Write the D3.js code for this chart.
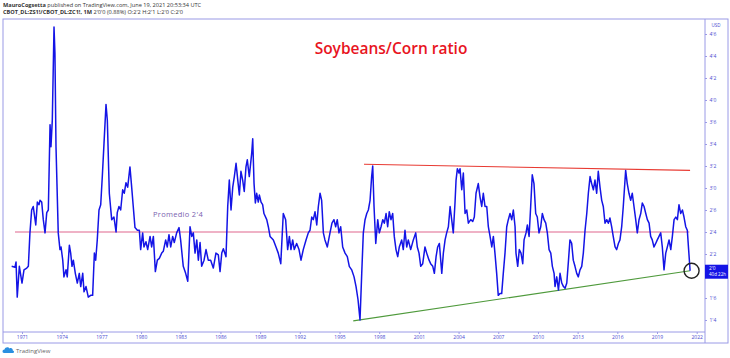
<!DOCTYPE html>
<html>
<head>
<meta charset="utf-8">
<script src="https://cdn.jsdelivr.net/npm/d3@7"></script>
<style>
  body { margin: 0; background: #fff; }
  svg { display: block; font-family: "Open Sans", "DejaVu Sans", sans-serif; }
</style>
</head>
<body>
<svg id="chart" width="730" height="358"></svg>
<script>
// decimal years of each monthly sample
var dates = [
  1970.22,1970.47,1970.55,1970.64,1970.80,1971.00,1971.15,1971.36,1971.48,1971.60,
  1971.73,1971.85,1972.04,1972.16,1972.29,1972.36,1972.49,1972.61,1972.74,1972.87,
  1972.99,1973.12,1973.19,1973.29,1973.42,1973.49,1973.57,1973.74,1973.87,1973.95,
  1974.08,1974.17,1974.33,1974.42,1974.58,1974.68,1974.78,1974.88,1975.03,1975.18,
  1975.33,1975.44,1975.59,1975.69,1975.84,1976.01,1976.19,1976.34,1976.47,1976.57,
  1976.69,1976.82,1976.95,1977.07,1977.20,1977.35,1977.45,1977.60,1977.78,1977.95,
  1978.11,1978.20,1978.33,1978.46,1978.61,1978.73,1978.86,1978.99,1979.16,1979.29,
  1979.41,1979.54,1979.72,1979.87,1979.97,1980.12,1980.22,1980.37,1980.50,1980.68,
  1980.80,1980.93,1981.08,1981.23,1981.38,1981.56,1981.68,1981.86,1981.98,1982.11,
  1982.24,1982.39,1982.51,1982.69,1982.87,1982.99,1983.19,1983.37,1983.53,1983.70,
  1983.83,1983.95,1984.08,1984.21,1984.33,1984.46,1984.58,1984.76,1984.91,1985.08,
  1985.26,1985.46,1985.66,1985.84,1985.97,1986.10,1986.22,1986.42,1986.55,1986.67,
  1986.80,1986.93,1987.05,1987.18,1987.31,1987.43,1987.55,1987.68,1987.80,1987.93,
  1988.03,1988.18,1988.36,1988.44,1988.54,1988.64,1988.74,1988.86,1988.94,1989.07,
  1989.19,1989.29,1989.50,1989.62,1989.75,1989.88,1990.00,1990.20,1990.37,1990.56,
  1990.75,1990.93,1991.08,1991.21,1991.33,1991.46,1991.58,1991.76,1991.94,1992.09,
  1992.26,1992.47,1992.64,1992.77,1992.90,1993.02,1993.15,1993.28,1993.40,1993.53,
  1993.65,1993.78,1993.90,1994.08,1994.28,1994.43,1994.58,1994.71,1994.83,1994.96,
  1995.09,1995.24,1995.42,1995.59,1995.74,1995.92,1996.10,1996.25,1996.40,1996.55,
  1996.68,1996.80,1996.93,1997.06,1997.18,1997.31,1997.43,1997.51,1997.61,1997.74,
  1997.89,1998.01,1998.14,1998.27,1998.39,1998.52,1998.64,1998.76,1998.89,1999.02,
  1999.14,1999.27,1999.40,1999.52,1999.70,1999.82,1999.95,2000.08,2000.20,2000.38,
  2000.58,2000.76,2000.88,2001.01,2001.14,2001.29,2001.46,2001.59,2001.77,2001.89,
  2002.05,2002.17,2002.30,2002.42,2002.55,2002.73,2002.85,2002.98,2003.10,2003.23,
  2003.36,2003.48,2003.60,2003.73,2003.81,2003.91,2004.03,2004.11,2004.24,2004.36,
  2004.49,2004.62,2004.74,2004.92,2005.07,2005.19,2005.32,2005.49,2005.62,2005.75,
  2005.87,2006.00,2006.13,2006.25,2006.38,2006.51,2006.63,2006.75,2006.88,2007.00,
  2007.13,2007.26,2007.38,2007.51,2007.64,2007.76,2007.89,2008.02,2008.14,2008.27,
  2008.34,2008.47,2008.59,2008.72,2008.85,2008.95,2009.10,2009.20,2009.33,2009.45,
  2009.57,2009.70,2009.83,2009.95,2010.08,2010.21,2010.33,2010.46,2010.59,2010.71,
  2010.84,2010.97,2011.09,2011.22,2011.29,2011.42,2011.55,2011.67,2011.80,2011.93,
  2012.05,2012.18,2012.31,2012.42,2012.55,2012.67,2012.80,2012.93,2013.05,2013.18,
  2013.31,2013.43,2013.56,2013.69,2013.81,2013.94,2014.06,2014.19,2014.31,2014.44,
  2014.56,2014.69,2014.82,2014.94,2015.07,2015.20,2015.32,2015.44,2015.57,2015.69,
  2015.83,2015.95,2016.08,2016.20,2016.33,2016.45,2016.63,2016.75,2016.88,2017.01,
  2017.13,2017.26,2017.39,2017.51,2017.64,2017.77,2017.89,2018.02,2018.15,2018.27,
  2018.40,2018.52,2018.64,2018.77,2018.90,2019.02,2019.15,2019.28,2019.40,2019.53,
  2019.66,2019.78,2019.91,2020.04,2020.16,2020.29,2020.42,2020.54,2020.66,2020.79,
  2020.92,2021.04,2021.17,2021.29,2021.39,2021.50
];

// soybeans / corn ratio at each date
var ratio = [
  2.11,2.10,2.16,1.76,2.11,1.92,2.07,2.09,2.11,2.49,
  2.75,2.79,2.58,2.84,2.81,2.86,2.84,2.64,2.49,2.72,
  2.75,3.72,3.47,3.77,4.83,4.53,3.47,2.49,2.30,2.33,
  2.18,1.99,2.07,1.99,2.35,2.26,2.11,2.18,2.03,1.92,
  2.03,1.88,2.03,1.82,1.88,1.76,1.78,1.78,2.26,2.18,
  2.41,2.75,2.81,3.13,3.51,3.95,3.77,2.94,2.64,2.67,
  2.50,2.72,2.79,2.75,2.98,2.94,3.06,3.01,3.24,3.01,
  2.79,2.55,2.52,2.52,2.30,2.49,2.33,2.39,2.30,2.45,
  2.33,2.45,2.05,2.18,2.20,2.26,2.28,2.41,2.33,2.47,
  2.33,2.45,2.38,2.49,2.55,2.41,2.11,2.03,1.94,2.56,
  2.45,2.49,2.26,2.41,2.18,2.38,2.11,2.18,2.30,2.18,
  2.18,2.09,2.26,2.24,2.05,2.26,2.31,2.22,2.79,3.09,
  2.75,3.01,3.13,3.28,3.09,2.92,3.19,3.09,2.96,3.24,
  3.32,3.13,3.39,3.56,3.05,2.83,2.94,2.84,2.92,2.84,
  2.81,2.71,2.64,2.56,2.45,2.43,2.41,2.33,2.26,2.14,
  2.71,2.64,2.30,2.45,2.30,2.41,2.30,2.37,2.30,2.18,
  2.30,2.41,2.49,2.52,2.67,2.64,2.73,2.58,2.79,2.94,
  2.86,2.49,2.41,2.33,2.49,2.60,2.64,2.56,2.64,2.49,
  2.56,2.33,2.26,2.22,2.11,2.07,1.99,1.88,1.73,1.50,
  2.03,2.49,2.64,2.71,2.75,2.86,3.13,3.25,2.79,2.37,
  2.64,2.49,2.56,2.64,2.60,2.71,2.56,2.73,2.64,2.71,
  2.45,2.30,2.22,2.33,2.41,2.30,2.52,2.33,2.41,2.30,
  2.41,2.49,2.33,2.26,2.11,2.14,2.33,2.26,2.18,2.14,
  2.11,2.03,2.22,2.33,2.37,2.03,2.26,2.41,2.49,2.56,
  2.79,2.64,2.49,2.83,3.09,3.22,3.17,3.22,2.98,3.17,
  2.71,2.75,2.60,2.64,2.62,2.67,2.94,3.05,2.90,2.79,
  2.94,2.79,2.79,2.56,2.45,2.33,2.45,2.26,2.03,1.78,
  1.80,1.80,2.03,2.26,2.56,2.64,2.71,2.64,2.75,2.56,
  2.26,2.11,2.30,2.26,2.14,2.41,2.49,2.58,2.45,2.79,
  3.15,3.05,2.71,2.67,2.49,2.56,2.71,2.64,2.60,2.49,
  2.30,2.26,2.11,2.03,1.88,1.99,1.84,2.03,1.92,1.88,
  1.86,1.92,2.18,2.41,2.37,2.18,2.11,2.03,1.99,2.07,
  2.11,2.26,2.52,2.71,2.94,3.13,3.05,2.98,3.09,2.94,
  3.19,3.01,2.86,2.79,2.60,2.64,2.60,2.66,2.56,2.45,
  2.33,2.30,2.37,2.41,2.56,2.79,3.20,3.05,2.94,2.86,
  2.94,2.79,2.64,2.49,2.64,2.71,2.83,2.79,2.71,2.64,
  2.60,2.45,2.41,2.33,2.37,2.41,2.45,2.49,2.33,2.07,
  2.26,2.33,2.41,2.30,2.45,2.64,2.67,2.64,2.81,2.71,
  2.75,2.67,2.56,2.52,2.30,2.06
];

// x axis years and price axis ticks (shown in 1/8 notation, e.g. 2'4 = 2.5)
// the 2'0 tick sits under the last-value badge, so it is not listed
var yearTicks = [1971,1974,1977,1980,1983,1986,1989,1992,1995,1998,2001,2004,2007,2010,2013,2016,2019,2022];
var priceTicks = [1.5,1.75,2.25,2.5,2.75,3,3.25,3.5,3.75,4,4.25,4.5,4.75];

// drawn trend lines: [date, value] pairs
var promedio = 2.5;
var promedioSpan = [1970.47, 2021.45];
var resistance = [[1996.85, 3.27], [2021.50, 3.20]];
var support = [[1996.04, 1.49], [2021.50, 2.06]];
var lastValue = 2.06;

var svg = d3.select('#chart');
var frameColor = '#9a9ae6';
var axisText = '#4a4ad0';

var plot = {l: 3, r: 705, t: 19, b: 332};

var x = d3.scaleLinear().domain([1971, 2022]).range([22, 696.7]);
var y = d3.scaleLinear().domain([1.5, 4.75]).range([320, 34]);

function eighths(v) {
    var whole = Math.floor(v + 1e-9);
    return whole + "'" + Math.round((v - whole) * 8);
}

// header
var head = svg.append('g').style('font-size', '5.6px').attr('fill', '#333');
var h1 = head.append('text').attr('x', 3).attr('y', 7);
h1.append('tspan').style('font-weight', 'bold').text('MauroCogsetta');
h1.append('tspan').text(' published on TradingView.com, June 19, 2021 20:53:34 UTC');
var h2 = head.append('text').attr('x', 3).attr('y', 14);
h2.append('tspan').style('font-weight', 'bold').text('CBOT_DL:ZS1!/CBOT_DL:ZC1!, 1M');
h2.append('tspan').text("  2'0'0 (0.88%) O:2'2 H:2'1 L:2'0 C:2'0");

// frame
svg.append('rect')
    .attr('x', plot.l).attr('y', plot.t)
    .attr('width', 728 - plot.l).attr('height', 343 - plot.t)
    .attr('fill', 'none').attr('stroke', frameColor).attr('stroke-width', 1);
svg.append('line')
    .attr('x1', plot.r).attr('x2', plot.r).attr('y1', plot.t).attr('y2', 343)
    .attr('stroke', frameColor);
svg.append('line')
    .attr('x1', plot.l).attr('x2', plot.r).attr('y1', plot.b).attr('y2', plot.b)
    .attr('stroke', frameColor);

// axes
var xAxis = d3.axisBottom(x).tickValues(yearTicks).tickFormat(d3.format('d')).tickSize(2).tickPadding(1.5);
var xg = svg.append('g').attr('transform', 'translate(0,' + plot.b + ')').call(xAxis);
xg.select('.domain').remove();
xg.selectAll('line').attr('stroke', frameColor);
xg.selectAll('text').attr('fill', axisText).style('font-size', '5px').style('font-family', 'Open Sans, sans-serif');

var yAxis = d3.axisRight(y).tickValues(priceTicks).tickFormat(eighths).tickSize(2).tickPadding(2.5);
var yg = svg.append('g').attr('transform', 'translate(' + plot.r + ',0)').call(yAxis);
yg.select('.domain').remove();
yg.selectAll('line').attr('stroke', frameColor);
yg.selectAll('text').attr('fill', axisText).style('font-size', '5px').style('font-family', 'Open Sans, sans-serif');

svg.append('text').attr('x', 716).attr('y', 27).attr('text-anchor', 'middle')
    .attr('fill', axisText).style('font-size', '4.5px').text('USD');

// title
svg.append('text')
    .attr('x', 391).attr('y', 54)
    .attr('text-anchor', 'middle')
    .attr('fill', '#e8141e')
    .style('font-size', '15.5px')
    .style('font-weight', '600')
    .text('Soybeans/Corn ratio');

// average line
svg.append('line')
    .attr('x1', x(promedioSpan[0])).attr('x2', x(promedioSpan[1]))
    .attr('y1', y(promedio)).attr('y2', y(promedio))
    .attr('stroke', '#e0678d').attr('stroke-width', 1.1);

svg.append('text')
    .attr('x', 178).attr('y', 216.5)
    .attr('text-anchor', 'middle')
    .attr('fill', '#7a5fb0')
    .style('font-size', '7.5px')
    .style('letter-spacing', '0.3px')
    .text("Promedio 2'4");

var trend = d3.line().x(d => x(d[0])).y(d => y(d[1]));

svg.append('path').datum(resistance)
    .attr('d', trend).attr('fill', 'none')
    .attr('stroke', '#e83a32').attr('stroke-width', 1.1);

svg.append('path').datum(support)
    .attr('d', trend).attr('fill', 'none')
    .attr('stroke', '#4f9a3c').attr('stroke-width', 1.1);

// ratio series
var series = dates.map((d, i) => [d, ratio[i]]);
svg.append('path').datum(series)
    .attr('d', d3.line().x(d => x(d[0])).y(d => y(d[1])))
    .attr('fill', 'none')
    .attr('stroke', '#1414e6')
    .attr('stroke-width', 1.5)
    .attr('stroke-linejoin', 'round');

// circle on the last value
svg.append('circle')
    .attr('cx', x(dates[dates.length - 1]) + 1.5)
    .attr('cy', y(lastValue))
    .attr('r', 7.5)
    .attr('fill', 'none')
    .attr('stroke', '#222')
    .attr('stroke-width', 1.4);

// last value badge on the price axis
var badge = svg.append('g').attr('transform', 'translate(' + plot.r + ',' + (y(lastValue) - 6) + ')');
badge.append('rect').attr('width', 23).attr('height', 14).attr('fill', '#1414e6');
badge.append('text').attr('x', 4).attr('y', 5.5).attr('fill', '#fff')
    .style('font-size', '4.8px').text(eighths(2));
badge.append('text').attr('x', 4).attr('y', 11.5).attr('fill', '#fff')
    .style('font-size', '4.5px').text('40d 22h');

// TradingView mark
var logo = svg.append('g').attr('transform', 'translate(3,346)');
logo.append('path')
    .attr('d', 'M1,7 C-1,7 -1,3.5 1.5,3.5 C2,1 5.5,0.5 6.5,2.5 C8,1.5 10,2.5 9.8,4.5 C11.5,4.7 11.5,7 9.8,7 Z')
    .attr('fill', '#2a8fe0');
logo.append('text').attr('x', 13).attr('y', 6.5).attr('fill', '#666')
    .style('font-size', '6px').text('TradingView');
</script>
</body>
</html>
